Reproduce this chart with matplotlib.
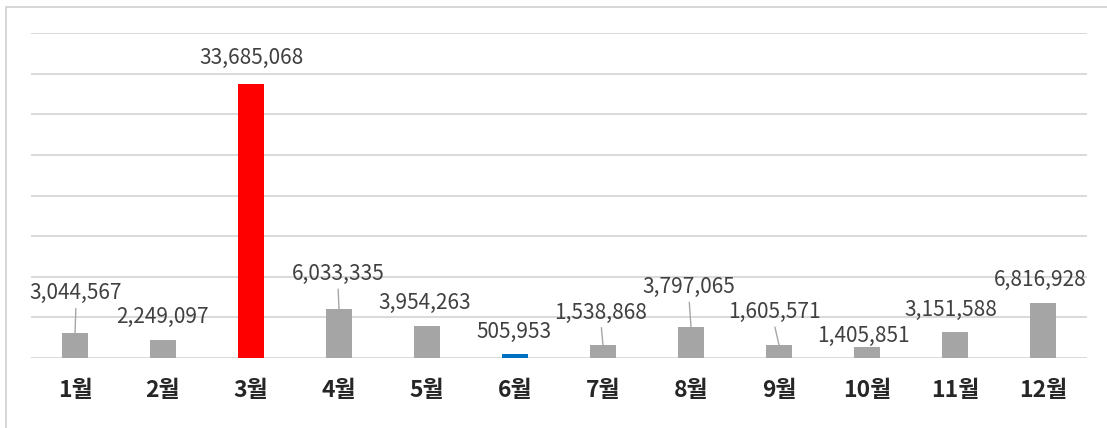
import matplotlib
matplotlib.use("Agg")
import matplotlib.pyplot as plt
from matplotlib.patches import Rectangle

plt.rcParams['font.family'] = ['Noto Sans CJK KR', 'DejaVu Sans']

months = ['1월', '2월', '3월', '4월', '5월', '6월', '7월', '8월', '9월', '10월', '11월', '12월']
values = [3044567, 2249097, 33685068, 6033335, 3954263, 505953,
          1538868, 3797065, 1605571, 1405851, 3151588, 6816928]
bar_colors = ['#a5a5a5', '#a5a5a5', '#ff0000', '#a5a5a5', '#a5a5a5', '#0070c0',
              '#a5a5a5', '#a5a5a5', '#a5a5a5', '#a5a5a5', '#a5a5a5', '#a5a5a5']
# label offsets in pixels (dx, dy up) from bar top, and whether a leader line is drawn
label_offsets = [(1, 40), (0, 23), (0, 26), (-1, 35), (-2, 23), (-1, 22),
                 (-2, 33), (-2, 40), (-5, 33), (-4, 11), (-4, 22), (-3, 23)]
leaders = [True, False, False, True, False, False, True, True, True, False, False, False]

W, H = 1107, 428
fig = plt.figure(figsize=(W / 100, H / 100), dpi=100)
ax = fig.add_axes([31 / W, 1 - 358 / H, (1087 - 31) / W, (358 - 33) / H])

x = list(range(len(months)))
ax.bar(x, values, width=0.3, color=bar_colors, zorder=3)

ax.set_xlim(-0.5, len(months) - 0.5)
ax.set_ylim(0, 40_000_000)
ax.set_yticks(range(0, 40_000_001, 5_000_000))
ax.yaxis.grid(True, color='#d9d9d9', linewidth=1.4, zorder=0)
ax.set_yticklabels([])
ax.tick_params(axis='y', length=0)
for s in ax.spines.values():
    s.set_visible(False)

ax.set_xticks(x)
ax.set_xticklabels(months, fontsize=16.5, fontweight='bold', color='#262626')
ax.tick_params(axis='x', length=0, pad=15)

px = 0.72
for i, v in enumerate(values):
    dx, dy = label_offsets[i]
    kw = {}
    if leaders[i]:
        kw['arrowprops'] = dict(arrowstyle='-', color='#a6a6a6', lw=1.0,
                                shrinkA=1, shrinkB=0, relpos=(0.5, 0.0))
    ax.annotate(f"{v:,}", xy=(i, v), xytext=(dx * px, dy * px),
                textcoords='offset points', ha='center', va='center',
                fontsize=15, color='#404040', zorder=5, **kw)

fig.add_artist(Rectangle((6 / W, -0.2), 2, 1 - 7 / H + 0.2, fill=False,
                         edgecolor='#d0d0d0', linewidth=1.2,
                         transform=fig.transFigure))

fig.savefig('out.png', dpi=100)
